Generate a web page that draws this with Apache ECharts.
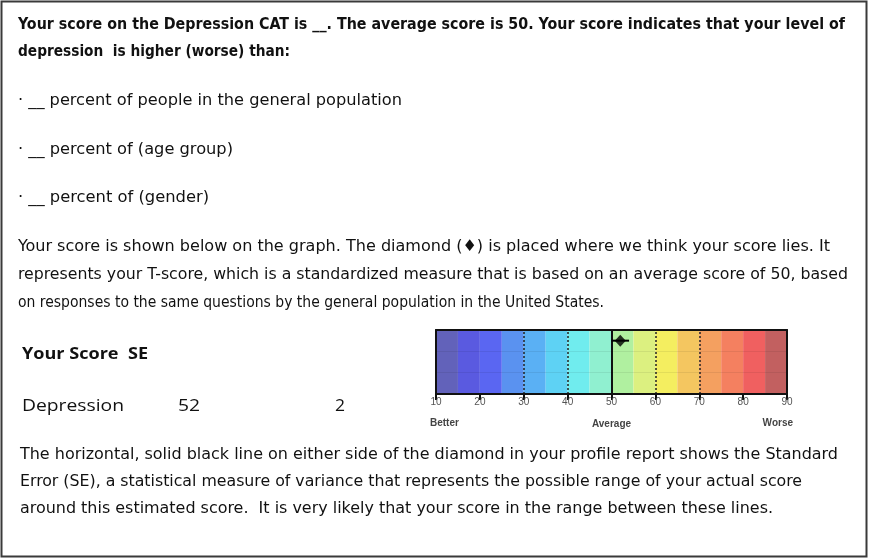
<!DOCTYPE html>
<html>
<head>
<meta charset="utf-8">
<script src="https://cdn.jsdelivr.net/npm/echarts@6/dist/echarts.min.js"></script>
<style>
html,body{margin:0;padding:0;background:#fff;}
#main{width:869px;height:560px;}
</style>
</head>
<body>
<div id="main"></div>
<script>
// ---- data ----
const axisTicks = [10, 20, 30, 40, 50, 60, 70, 80, 90];
const bandStarts = [10, 15, 20, 25, 30, 35, 40, 45, 50, 55, 60, 65, 70, 75, 80, 85];
const bandWidth = 5;
const bandColors = ['#6262ba', '#5a5ae0', '#5a66f2', '#5a92f0', '#5ab0f4', '#5ed2f4', '#70ecee', '#90f0d0',
                    '#b0f0a0', '#dcf080', '#f4ee60', '#f4c660', '#f4a060', '#f48060', '#f06060', '#c26060'];
const dottedLines = [30, 40, 60, 70];
const averageLine = 50;
const scoreValue = 52;
const scoreSE = 2;
const scaleWords = ['Better', 'Average', 'Worse'];

const titleLines = ['Your score on the Depression CAT is __. The average score is 50. Your score indicates that your level of',
                    'depression  is higher (worse) than:'];
const bulletLines = ['\u00B7 __ percent of people in the general population',
                     '\u00B7 __ percent of (age group)',
                     '\u00B7 __ percent of (gender)'];
const explainLines = ['Your score is shown below on the graph. The diamond (\u2666) is placed where we think your score lies. It',
                      'represents your T-score, which is a standardized measure that is based on an average score of 50, based',
                      'on responses to the same questions by the general population in the United States.'];
const tableHeader = 'Your Score  SE';
const tableRow = ['Depression', '52', '2'];
const seLines = ['The horizontal, solid black line on either side of the diamond in your profile report shows the Standard',
                 'Error (SE), a statistical measure of variance that represents the possible range of your actual score',
                 'around this estimated score.  It is very likely that your score in the range between these lines.'];

// ---- layout helpers ----
const ctx = document.createElement('canvas').getContext('2d');
const BODY = "16px 'Liberation Sans Narrow', 'DejaVu Sans Condensed', sans-serif";
const BOLD = "bold 15px 'Liberation Sans Narrow', 'DejaVu Sans Condensed', sans-serif";
const TABLE = "16px 'Open Sans', 'Liberation Sans', sans-serif";
const TABLEB = "bold 16px 'Open Sans', 'Liberation Sans', sans-serif";
function fit(text, x, y, right, font) {
  ctx.font = font;
  const w = ctx.measureText(text).width;
  return {
    type: 'text', x: x, y: y, scaleX: (right - x) / w, silent: true,
    style: { text: text, x: 0, y: 0, font: font, fill: '#111', verticalAlign: 'middle', align: 'left' }
  };
}

const texts = [];
texts.push(fit(titleLines[0], 18, 25, 845, BOLD));
texts.push(fit(titleLines[1], 18, 52, 290, BOLD));
texts.push(fit(bulletLines[0], 18, 101, 402, BODY));
texts.push(fit(bulletLines[1], 18, 150, 233, BODY));
texts.push(fit(bulletLines[2], 18, 198, 209, BODY));
texts.push(fit(explainLines[0], 18, 247, 830, BODY));
texts.push(fit(explainLines[1], 18, 275, 848, BODY));
texts.push(fit(explainLines[2], 18, 303, 604, BODY));
texts.push(fit(tableHeader, 22, 354, 148, TABLEB));
texts.push(fit(tableRow[0], 22, 406, 124, TABLE));
texts.push(fit(tableRow[1], 178, 406, 200, TABLE));
texts.push(fit(tableRow[2], 335, 406, 345, TABLE));
texts.push(fit(seLines[0], 20, 455, 838, BODY));
texts.push(fit(seLines[1], 20, 482, 802, BODY));
texts.push(fit(seLines[2], 20, 509, 773, BODY));

texts.push({
  type: 'rect', silent: true, z: 0,
  shape: { x: 1.5, y: 1.5, width: 865, height: 555 },
  style: { fill: 'none', stroke: '#3a3a3a', lineWidth: 2 }
});

const chart = echarts.init(document.getElementById('main'), null, { renderer: 'canvas' });

const bandData = bandStarts.map((s, i) => [s, s + bandWidth, i]);

const option = {
  animation: false,
  backgroundColor: '#fff',
  grid: { left: 436, top: 330, width: 351, height: 64 },
  xAxis: [{
    type: 'value', min: 10, max: 90, interval: 10, z: 10,
    axisLine: { show: true, onZero: false, lineStyle: { color: '#111', width: 2 } },
    axisTick: { show: true, length: 6, lineStyle: { color: '#111', width: 2 } },
    axisLabel: { show: true, color: '#555', fontSize: 10, margin: 3, fontFamily: 'Arial, Liberation Sans, sans-serif',
                 formatter: v => axisTicks.indexOf(v) >= 0 ? String(v) : '' },
    splitLine: { show: false }
  }, {
    type: 'value', min: 10, max: 90, position: 'top', z: 10,
    axisLine: { show: true, onZero: false, lineStyle: { color: '#111', width: 2 } },
    axisTick: { show: false }, axisLabel: { show: false }, splitLine: { show: false }
  }],
  yAxis: [{
    type: 'value', min: 0, max: 3, interval: 1, z: 10,
    axisLine: { show: true, onZero: false, lineStyle: { color: '#111', width: 2 } },
    axisTick: { show: false }, axisLabel: { show: false },
    splitLine: { show: true, lineStyle: { color: 'rgba(0,0,0,0.07)', width: 1 } }
  }, {
    type: 'value', min: 0, max: 3, position: 'right', z: 10,
    axisLine: { show: true, onZero: false, lineStyle: { color: '#111', width: 2 } },
    axisTick: { show: false }, axisLabel: { show: false }, splitLine: { show: false }
  }],
  series: [{
    type: 'custom', z: 1,
    renderItem: function (params, api) {
      const p0 = api.coord([api.value(0), 3]);
      const p1 = api.coord([api.value(1), 0]);
      return {
        type: 'rect',
        shape: { x: p0[0], y: p0[1], width: p1[0] - p0[0], height: p1[1] - p0[1] },
        style: { fill: bandColors[api.value(2)] }
      };
    },
    encode: { x: [0, 1] },
    data: bandData,
    markLine: {
      silent: true, symbol: 'none', label: { show: false }, z: 5,
      data: dottedLines.map(v => ({ xAxis: v, lineStyle: { type: [2, 2], color: '#222', width: 1.5 } }))
        .concat([{ xAxis: averageLine, lineStyle: { type: 'solid', color: '#111', width: 2 } }])
    }
  }, {
    type: 'line', z: 6, symbol: 'none',
    lineStyle: { color: '#000', width: 2 },
    data: [[scoreValue - scoreSE, 2.5], [scoreValue + scoreSE, 2.5]]
  }, {
    type: 'scatter', z: 7, symbol: 'diamond', symbolSize: [11, 12],
    itemStyle: { color: '#000' },
    data: [[scoreValue, 2.5]]
  }],
  graphic: texts
};
chart.setOption(option);

const xb = chart.convertToPixel({ xAxisIndex: 0 }, 10);
const xa = chart.convertToPixel({ xAxisIndex: 0 }, averageLine);
const xw = chart.convertToPixel({ xAxisIndex: 0 }, 90);
const wordFont = "bold 10px Arial, 'Liberation Sans', sans-serif";
const words = [
  { type: 'text', x: xb - 6, y: 423, silent: true, style: { text: scaleWords[0], font: wordFont, fill: '#444', align: 'left', verticalAlign: 'middle' } },
  { type: 'text', x: xa, y: 424, silent: true, style: { text: scaleWords[1], font: wordFont, fill: '#444', align: 'center', verticalAlign: 'middle' } },
  { type: 'text', x: xw + 6, y: 423, silent: true, style: { text: scaleWords[2], font: wordFont, fill: '#444', align: 'right', verticalAlign: 'middle' } }
];
chart.setOption({ graphic: texts.concat(words) });
</script>
</body>
</html>
